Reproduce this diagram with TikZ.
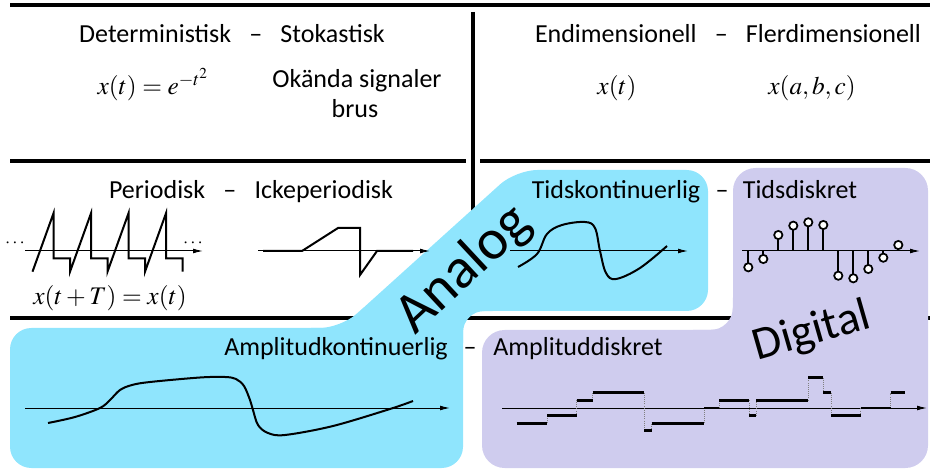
\documentclass[tikz,border=0pt]{standalone}
\usepackage{mathptmx}
\usepackage[no-math]{fontspec}
\newfontfamily\calfont{Carlito}
\usetikzlibrary{arrows.meta}
\definecolor{anablue}{RGB}{143,229,253}
\definecolor{digpurple}{RGB}{207,204,238}
\begin{document}
\begin{tikzpicture}[x=0.75pt,y=-0.75pt,
  lbl/.style={font=\calfont\fontsize{19.5}{22.5}\selectfont, inner sep=0pt, anchor=base},
  mth/.style={font=\fontsize{19}{23}\selectfont, inner sep=0pt, anchor=base},
  bigA/.style={font=\calfont\fontsize{43}{46}\selectfont, inner sep=0pt},
  bigD/.style={font=\calfont\fontsize{35}{38}\selectfont, inner sep=0pt},
  dots/.style={font=\fontsize{14}{16}\selectfont, inner sep=0pt},
  divline/.style={line width=3pt},
  axis/.style={line width=0.75pt,-{Latex[length=7.5pt,width=3.6pt]}},
  sig/.style={line width=1.5pt},
  stem/.style={line width=1.7pt},
  ball/.style={circle, draw, fill=white, line width=1.3pt, minimum size=6.2pt, inner sep=0pt},
  qstep/.style={line width=2.2pt},
  qlink/.style={densely dotted, gray, line width=0.6pt},
]
\useasboundingbox (0,0) rectangle (930,473);
% dividing lines
\draw[divline] (10,5) -- (930,5);
\draw[divline] (473,12) -- (473,240);
\draw[divline] (10,161) -- (466,161);
\draw[divline] (480,161) -- (930,161);
\draw[divline] (10,318) -- (930,318);
% regions
\fill[anablue, rounded corners=16pt] (10,328) -- (10,468) -- (463,468) -- (463,311) -- (708,311) -- (708,170) -- (516,170) -- (341,328) -- cycle;
\fill[anablue] (463,343) .. controls (463,311) .. (495,311) -- (463,311) -- cycle;
\fill[anablue] (311,328) .. controls (341,328) .. ({341+0.742*30},{328-0.670*30}) -- (341,328) -- cycle;
\fill[digpurple, rounded corners=17pt] (482,330) -- (482,468) -- (928,468) -- (928,168) -- (733,168) -- (733,330) -- cycle;
\fill[digpurple] (693,330) .. controls (733,330) .. (733,290) -- (733,330) -- cycle;
% texts top row
\node[lbl] (det) at (232,43) {Deterministisk\hspace{0.7em}–\hspace{0.7em}Stokastisk};
\node[mth] (f1) at (153,95) {$x(t)=e^{-t^{2}}$};
\node[lbl] (ok) at (357,88) {Okända signaler};
\node[lbl] (brus) at (355,118) {brus};
\node[lbl] (dim) at (728,43) {Endimensionell\hspace{0.7em}–\hspace{0.7em}Flerdimensionell};
\node[mth] (f2) at (617,95) {$x(t)$};
\node[mth] (f3) at (812,95) {$x(a,b,c)$};
% second row
\node[lbl] (per) at (251,199) {Periodisk\hspace{0.7em}–\hspace{0.7em}Ickeperiodisk};
\node[lbl] (tk) at (616,199) {Tidskontinuerlig};
\node[lbl] (d1) at (722,199) {–};
\node[lbl] (td) at (800,199) {Tidsdiskret};
% third row
\node[lbl] (ak) at (336,355) {Amplitudkontinuerlig};
\node[lbl] (d2) at (470,355) {–};
\node[lbl] (ad) at (578,355) {Amplituddiskret};
% big labels
\node[bigA, rotate=43] (analog) at (464,270) {Analog};
\node[bigD, rotate=16] (digital) at (812,332) {Digital};
% periodic signal
\coordinate (p0) at (25,251); \coordinate (p1) at (203,251);
\draw[axis] (p0) -- (p1);
\draw[sig] (32.5,271.7)
  -- (53.5,213.3) -- (53.5,258.3) -- (70,258.3) -- (70,271.7)
  -- (91,213.3) -- (91,258.3) -- (107.5,258.3) -- (107.5,271.7)
  -- (128.5,213.3) -- (128.5,258.3) -- (145,258.3) -- (145,271.7)
  -- (166,213.3) -- (166,258.3) -- (182.5,258.3) -- (182.5,271.7);
\node[dots] (dl) at (15,243) {$\cdots$};
\node[dots] (dr) at (193,243) {$\cdots$};
\node[mth] (f4) at (110,305) {$x(t+T)=x(t)$};
% aperiodic signal
\coordinate (q0) at (258,251); \coordinate (q1) at (430,251);
\draw[axis] (q0) -- (q1);
\draw[sig] (263,251) -- (302,251) -- (338,228) -- (360,228) -- (360,275) -- (377,251) -- (413,251);
% continuous-time
\coordinate (c0) at (510,251); \coordinate (c1) at (688,251);
\draw[axis] (c0) -- (c1);
\draw[sig] plot[smooth, tension=0.6] coordinates {(518,267) (537,254) (547,234) (562,225) (585,222) (595,228) (600,251) (606,273) (616,279) (640,268) (667,246)};
% discrete-time
\coordinate (s0) at (742,251); \coordinate (s1) at (920,251);
\draw[axis] (s0) -- (s1);
\foreach \i/\dy in {0/16.3,1/8,2/-16,3/-25.3,4/-28.7,5/-26,6/24.7,7/27.3,8/18,9/6.7,10/-6}{
  \draw[stem] ({748.3+15*\i},251) -- ({748.3+15*\i},{251+\dy});
  \node[ball] (b\i) at ({748.3+15*\i},{251+\dy}) {};
}
% amplitude continuous
\coordinate (a0) at (25,408); \coordinate (a1) at (450,408);
\draw[axis] (a0) -- (a1);
\draw[sig] plot[smooth, tension=0.55] coordinates {(48,423) (75,417) (100,408) (110,400) (120,390) (132,385) (150,382) (200,377.5) (225,377) (236,379) (244,386) (250,400) (253,410) (258,425) (268,433) (285,435) (333,426) (390,409) (413,401)};
% amplitude discrete
\coordinate (e0) at (502,408); \coordinate (e1) at (927,408);
\draw[axis] (e0) -- (e1);
\foreach \x/\ka/\kb in {547.3/2/1,576.7/1/-1,592.7/-1/-2,644/-2/3,651.7/3/2,704.3/2/0,719/0/-1,749/-1/1,756/1/-1,808.3/-1/-4,823.3/-4/-2,831/-2/1,860.7/1/0,890.7/0/-2}{
  \draw[qlink] (\x,{408+7.6*\ka}) -- (\x,{408+7.6*\kb});
}
\foreach \xa/\xb/\k in {516.7/547.3/2,547.3/576.7/1,576.7/592.7/-1,592.7/644/-2,644/651.7/3,651.7/704.3/2,704.3/719/0,719/749/-1,749/756/1,756/808.3/-1,808.3/823.3/-4,823.3/831/-2,831/860.7/1,860.7/890.7/0,890.7/905/-2}{
  \draw[qstep] (\xa,{408+7.6*\k}) -- (\xb,{408+7.6*\k});
}
\end{tikzpicture}
\end{document}
